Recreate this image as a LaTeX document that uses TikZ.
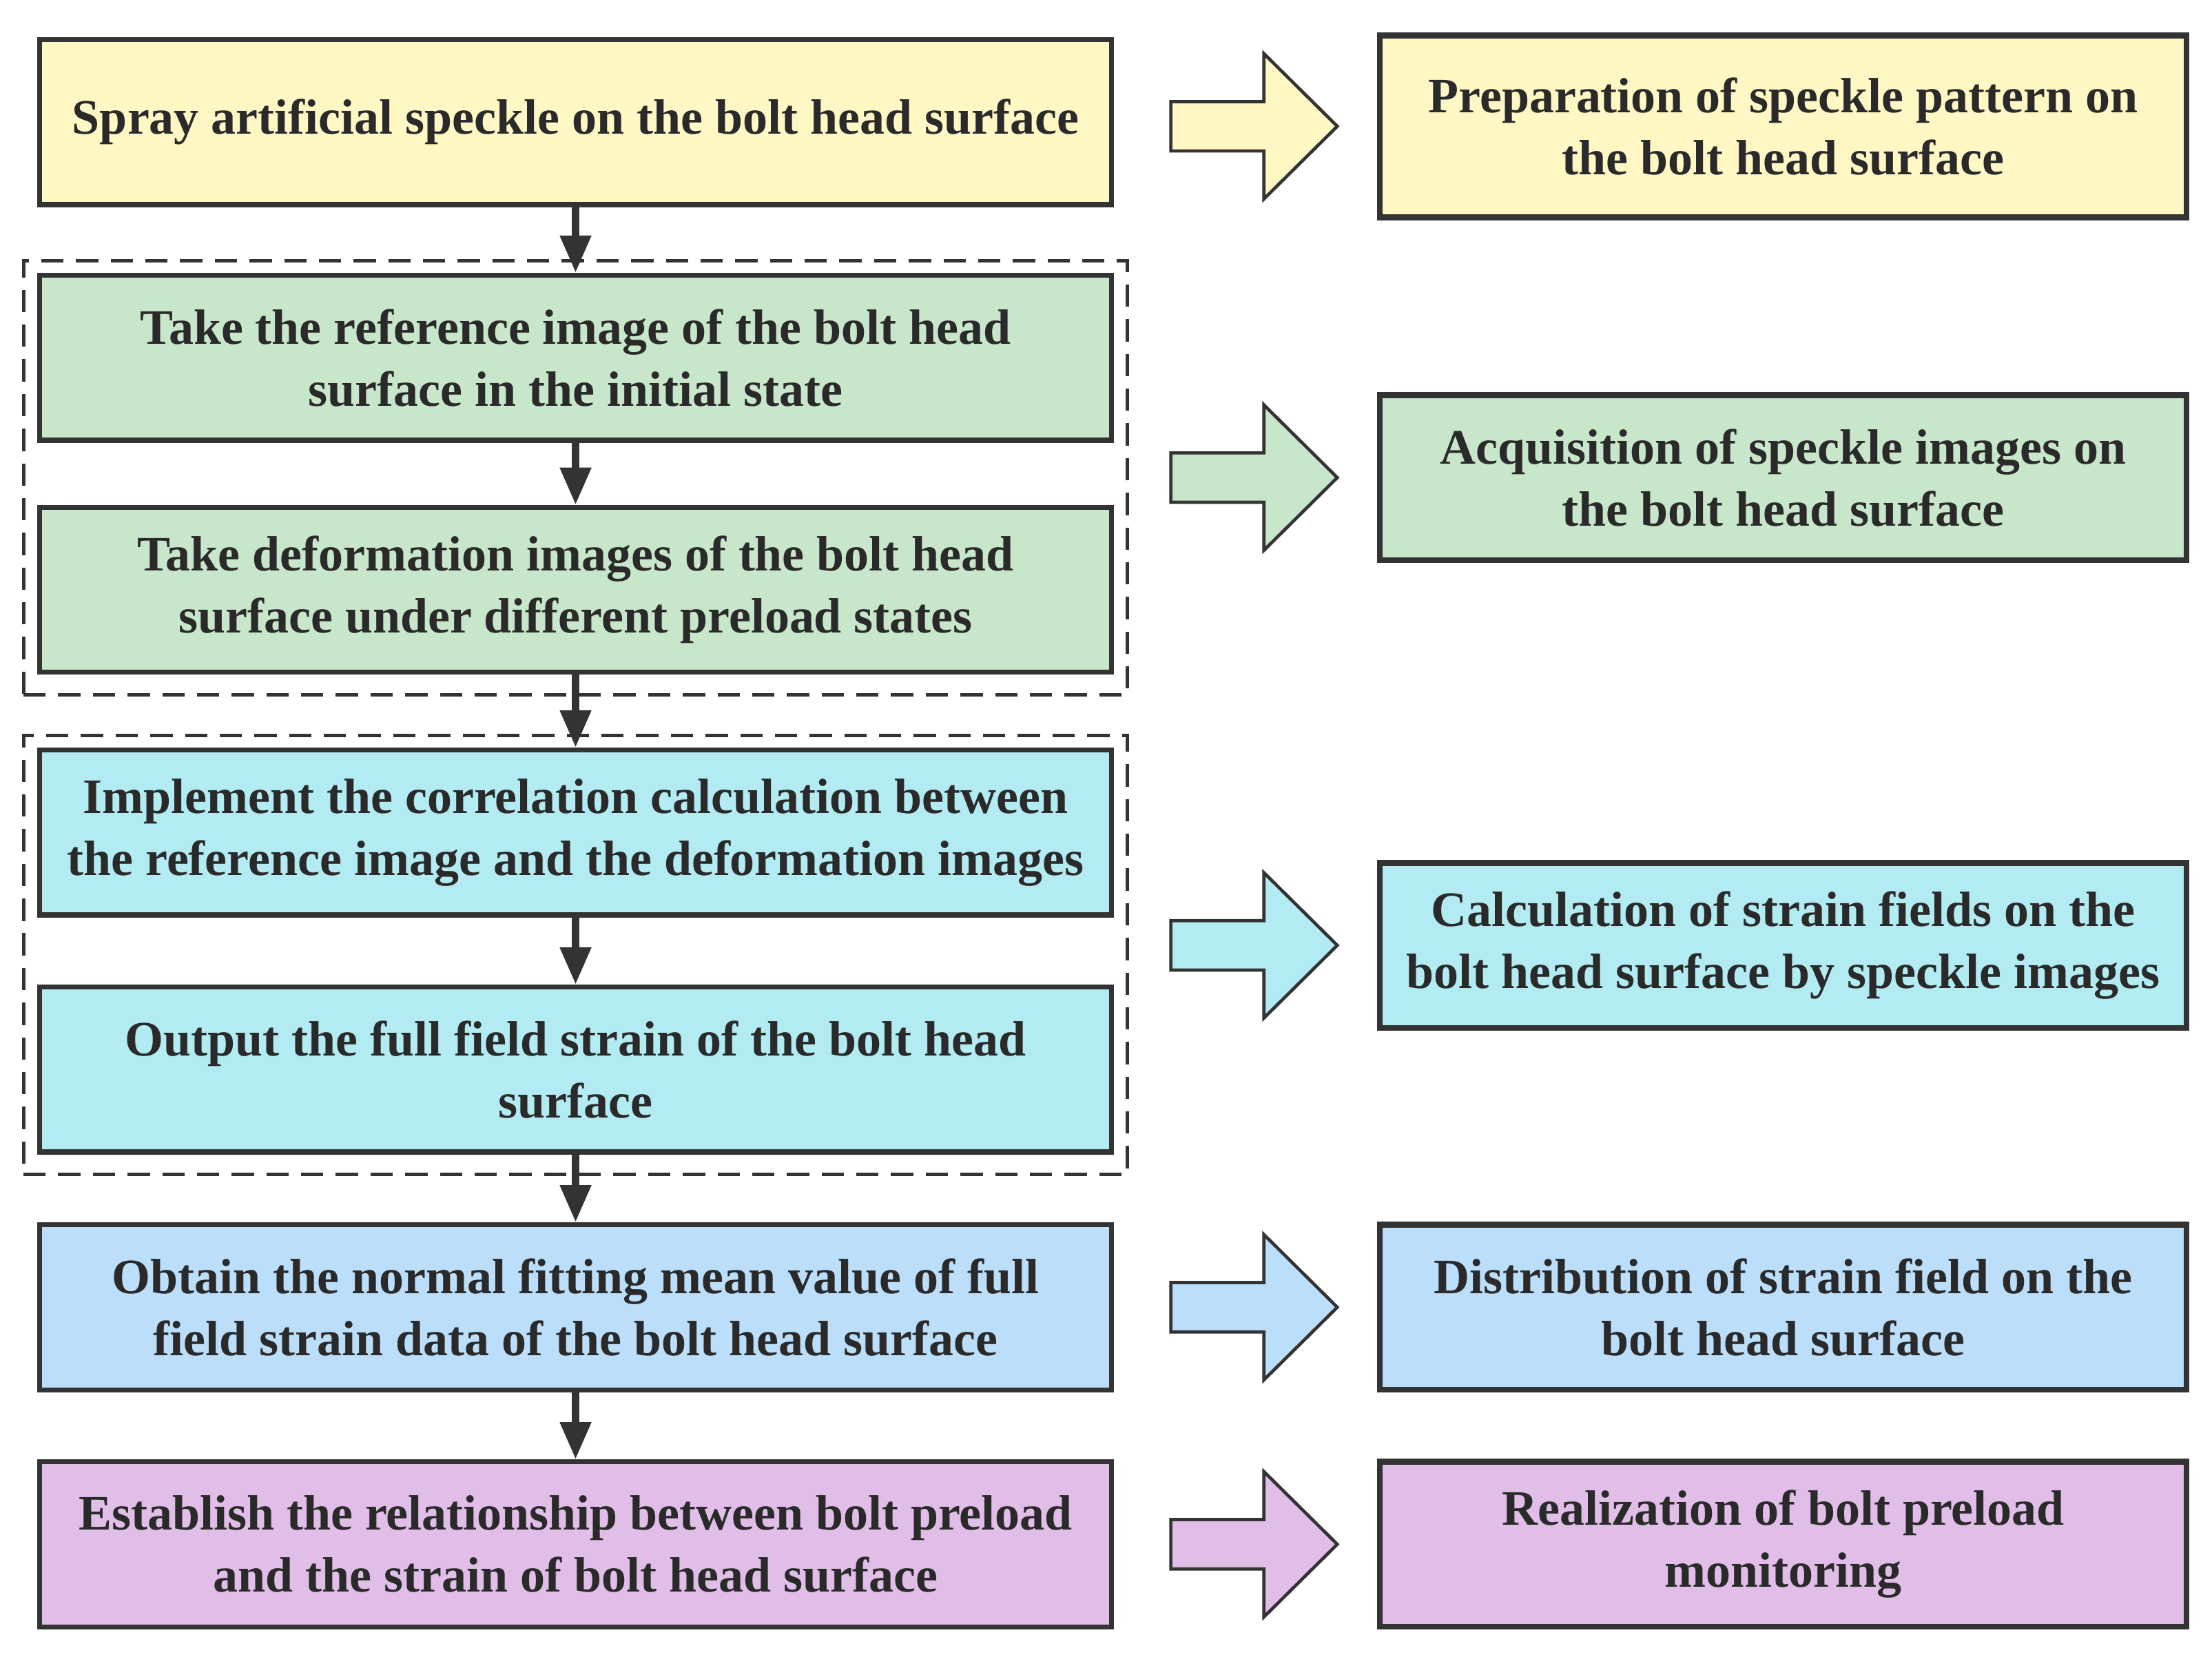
\documentclass[tikz,border=0pt]{standalone}
\usepackage{fontspec}
\setmainfont{Liberation Serif}
\usepackage{tikz}
\usetikzlibrary{positioning,arrows.meta,fit,calc}

\definecolor{boxline}{HTML}{333333}
\definecolor{textdark}{HTML}{2A2A2A}
\definecolor{ylwfill}{HTML}{FFF8C5}
\definecolor{grnfill}{HTML}{C8E6C9}
\definecolor{cynfill}{HTML}{B2EBF2}
\definecolor{blufill}{HTML}{BBDEFB}
\definecolor{purfill}{HTML}{E1BEE7}

\begin{document}
\begin{tikzpicture}[
  x=0.02cm, y=-0.02cm,
  font=\fontsize{20}{25}\selectfont\bfseries,
  text=textdark,
  >={Triangle[length=15pt,width=12pt]},
  stepbox/.style={draw=boxline, line width=2pt, minimum width=15.2cm, minimum height=2.34cm, align=center, inner sep=2pt},
  resbox/.style={draw=boxline, line width=2.4pt, minimum width=11.44cm, minimum height=2.34cm, align=center, inner sep=2pt},
  flowmap/.style={->, draw=boxline, line width=3pt},
  groupframe/.style={draw=boxline, line width=1.4pt, dash pattern=on 9pt off 5pt, inner xsep=5.5pt, inner ysep=6.5pt, yshift=-1.6pt},
  blockarrow/.style={draw=boxline, line width=1.3pt, line join=miter}
]
  \useasboundingbox (0,0) rectangle (1568,1174);

  % left column: procedure steps
  \node[stepbox, fill=ylwfill] (b1) at (408,86.5) {Spray artificial speckle on the bolt head surface};
  \node[stepbox, fill=grnfill] (b2) at (408,253.5) {Take the reference image of the bolt head\\surface in the initial state};
  \node[stepbox, fill=grnfill] (b3) at (408,418) {Take deformation images of the bolt head\\surface under different preload states};
  \node[stepbox, fill=cynfill] (b4) at (408,590) {Implement the correlation calculation between\\the reference image and the deformation images};
  \node[stepbox, fill=cynfill] (b5) at (408,758) {Output the full field strain of the bolt head\\surface};
  \node[stepbox, fill=blufill] (b6) at (408,926.5) {Obtain the normal fitting mean value of full\\field strain data of the bolt head surface};
  \node[stepbox, fill=purfill] (b7) at (408,1094.5) {Establish the relationship between bolt preload\\and the strain of bolt head surface};

  \node[groupframe, fit=(b2)(b3)] (grpacq) {};
  \node[groupframe, fit=(b4)(b5)] (grpcalc) {};

  \foreach \a/\b in {b1/b2,b2/b3,b3/b4,b4/b5,b5/b6,b6/b7}
    \draw[flowmap] (\a) -- (\b);

  % right column: stages
  \node[resbox, fill=ylwfill, minimum height=2.58cm] (r1) at (1264,89.5) {Preparation of speckle pattern on\\the bolt head surface};
  \node[resbox, fill=grnfill] (r2) at (1264,338.5) {Acquisition of speckle images on\\the bolt head surface};
  \node[resbox, fill=cynfill] (r3) at (1264,670) {Calculation of strain fields on the\\bolt head surface by speckle images};
  \node[resbox, fill=blufill] (r4) at (1264,926.5) {Distribution of strain field on the\\bolt head surface};
  \node[resbox, fill=purfill] (r5) at (1264,1094.5) {Realization of bolt preload\\monitoring};

  % block arrows
  \foreach \r/\c in {r1/ylwfill,r2/grnfill,r3/cynfill,r4/blufill,r5/purfill}
    \draw[blockarrow, fill=\c] ($(\r.west)+(-146,-17.5)$) -- ($(\r.west)+(-80,-17.5)$)
      -- ($(\r.west)+(-80,-51.5)$) -- ($(\r.west)+(-28,0)$) -- ($(\r.west)+(-80,51.5)$)
      -- ($(\r.west)+(-80,17.5)$) -- ($(\r.west)+(-146,17.5)$) -- cycle;
\end{tikzpicture}
\end{document}
